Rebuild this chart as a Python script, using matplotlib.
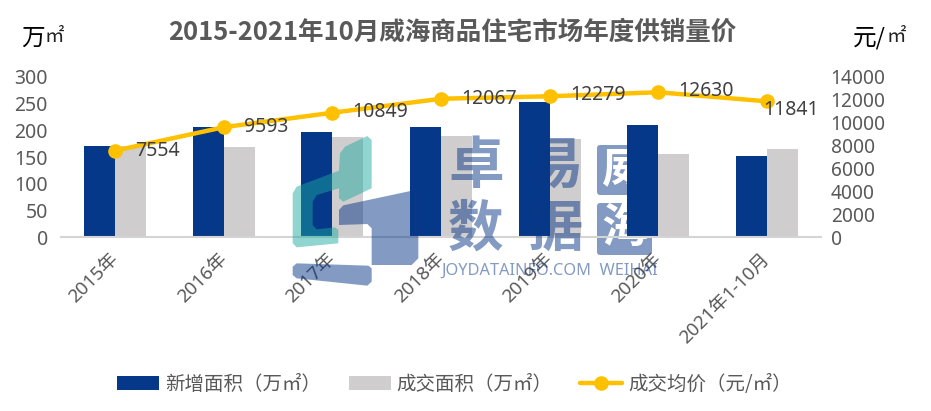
import matplotlib
matplotlib.use("Agg")
import matplotlib.pyplot as plt
from matplotlib.patches import Polygon, FancyBboxPatch
from matplotlib.transforms import ScaledTranslation
import numpy as np

plt.rcParams['font.family'] = ['Noto Sans', 'Noto Sans CJK SC', 'DejaVu Sans']

W, H = 931, 411

years = ["2015年", "2016年", "2017年", "2018年", "2019年", "2020年", "2021年1-10月"]
new_area = [171, 206, 197, 205, 253, 210, 152]
sold_area = [170, 169, 188, 190, 184, 156, 164]
price = [7554, 9593, 10849, 12067, 12279, 12630, 11841]

left_ticks = [0, 50, 100, 150, 200, 250, 300]
right_ticks = [0, 2000, 4000, 6000, 8000, 10000, 12000, 14000]

title = "2015-2021年10月威海商品住宅市场年度供销量价"
label_new = "新增面积（万㎡）"
label_sold = "成交面积（万㎡）"
label_price = "成交均价（元/㎡）"

# label offsets from the markers, in px (dy is downwards)
label_dx = [42, 42, 48, 48, 48, 48, 24]
label_dy = [0, 0, -1, 0, -1, -1, 9]

c_new = "#063889"
c_sold = "#cfcdcd"
c_price = "#ffc000"
c_text = "#595959"
c_wm = "#083786"
c_teal = "#1aa99f"
cjk = ['Noto Sans CJK SC', 'DejaVu Sans']

fig = plt.figure(figsize=(W / 100, H / 100), dpi=100)


def px_rect(x0, y0, x1, y1):
    return [x0 / W, 1 - y1 / H, (x1 - x0) / W, (y1 - y0) / H]


# watermark parts that sit under the bars
ax_under = fig.add_axes([0, 0, 1, 1], zorder=0)
ax_under.set_xlim(0, W)
ax_under.set_ylim(H, 0)
ax_under.axis("off")
for y0, y1, ch, ty in [(147, 193, "威", 169), (205, 253, "海", 228)]:
    ax_under.add_patch(FancyBboxPatch((599, y0), 51, y1 - y0,
                                      boxstyle="round,pad=2,rounding_size=3",
                                      fc=c_wm, ec="none", alpha=0.5))
    ax_under.text(625, ty, ch, color="white", fontsize=34, fontweight=900,
                  ha="center", va="center", family=cjk)

# main chart
ax = fig.add_axes(px_rect(61, 76.5, 821, 237.5), zorder=2)
ax.patch.set_visible(False)
x = np.arange(len(years))
bar_w = 0.285
ax.bar(x - bar_w / 2, new_area, bar_w, color=c_new, label=label_new)
ax.bar(x + bar_w / 2, sold_area, bar_w, color=c_sold, label=label_sold)
ax.set_xlim(-0.5, len(years) - 0.5)
ax.set_ylim(0, 300)
ax.set_yticks(left_ticks)
ax.set_xticks(x, years, rotation=45, ha="right", rotation_mode="anchor")
ax.tick_params(axis="both", length=0, labelcolor=c_text, labelsize=14)
ax.tick_params(axis="y", pad=9.5)
ax.tick_params(axis="x", pad=9, labelsize=13.5)
# the rotated labels sit a little left of their ticks
shift = ScaledTranslation(-6 / 100, 0, fig.dpi_scale_trans)
for lab in ax.get_xticklabels():
    lab.set_transform(lab.get_transform() + shift)
ax.spines[['left', 'right', 'top']].set_visible(False)
ax.spines['bottom'].set_color("#d4d4d4")
ax.spines['bottom'].set_linewidth(1.5)

ax2 = ax.twinx()
ax2.plot(x, price, "-o", color=c_price, lw=3.2, markersize=9.5, label=label_price,
         solid_capstyle="round")
ax2.set_ylim(0, 14000)
ax2.set_yticks(right_ticks)
ax2.tick_params(axis="y", length=0, labelcolor=c_text, labelsize=13.8, pad=7)
ax2.spines[['left', 'right', 'top', 'bottom']].set_visible(False)
for xi, p, dx, dy in zip(x, price, label_dx, label_dy):
    ax2.annotate(str(p), (xi, p), xytext=(dx * 0.72, dy * -0.72), textcoords="offset points",
                 ha="center", va="center", fontsize=14, color="#404040")

# watermark on top
ax_wm = fig.add_axes([0, 0, 1, 1], zorder=5)
ax_wm.set_xlim(0, W)
ax_wm.set_ylim(H, 0)
ax_wm.axis("off")


def zoom_poly(pts):
    return [(280 + a / 3, 130 + b / 3) for a, b in pts]


teal_pts = [(262, 18), (275, 30), (275, 175), (190, 215), (177, 205), (177, 175), (110, 195),
            (98, 215), (98, 285), (110, 298), (165, 292), (175, 300), (175, 340), (50, 352),
            (38, 340), (38, 190), (50, 170), (177, 122), (180, 70), (195, 50)]
blue_pts = [(177, 240), (190, 226), (415, 178), (415, 385), (395, 405), (275, 405), (275, 295),
            (262, 282), (177, 285)]
blue_pts2 = [(38, 410), (50, 400), (265, 407), (275, 415), (275, 455), (262, 467), (50, 445),
             (38, 435)]
ax_wm.add_patch(Polygon(zoom_poly(teal_pts), fc=c_teal, ec="none", alpha=0.48))
ax_wm.add_patch(Polygon(zoom_poly(blue_pts), fc=c_wm, ec="none", alpha=0.5))
ax_wm.add_patch(Polygon(zoom_poly(blue_pts2), fc=c_wm, ec="none", alpha=0.5))
for tx, ty, ch in [(476, 167, "卓"), (556, 167, "易"), (476, 230, "数"), (556, 230, "据")]:
    ax_wm.text(tx, ty, ch, color=c_wm, alpha=0.5, fontsize=40, fontweight=900,
               ha="center", va="center", family=cjk)
ax_wm.text(441, 271, "JOYDATAINFO.COM  WEIHAI", color=c_wm, alpha=0.5, fontsize=11.8,
           ha="left", va="center")

# title and unit labels
fig.text(452 / W, 1 - 32 / H, title, fontsize=18.4, fontweight="bold", color=c_text,
         ha="center", va="center", family=cjk, zorder=6)
fig.text(21 / W, 1 - 38 / H, "万", fontsize=17, color="black", ha="left", va="center", family=cjk)
fig.text(45 / W, 1 - 37 / H, "㎡", fontsize=14, color="#222222", ha="left", va="center", family=cjk)
fig.text(853 / W, 1 - 38 / H, "元/", fontsize=17, color="black", ha="left", va="center", family=cjk)
fig.text(887 / W, 1 - 37 / H, "㎡", fontsize=14, color="#222222", ha="left", va="center", family=cjk)

h1, l1 = ax.get_legend_handles_labels()
h2, l2 = ax2.get_legend_handles_labels()
fig.legend(h1 + h2, l1 + l2, ncol=3, loc="center", bbox_to_anchor=(454.5 / W, 1 - 384 / H),
           frameon=False, prop={'family': cjk, 'size': 14}, labelcolor=c_text,
           handlelength=2.15, handleheight=0.7, handletextpad=0.3, columnspacing=1.43)

fig.savefig("out.png", dpi=100)
